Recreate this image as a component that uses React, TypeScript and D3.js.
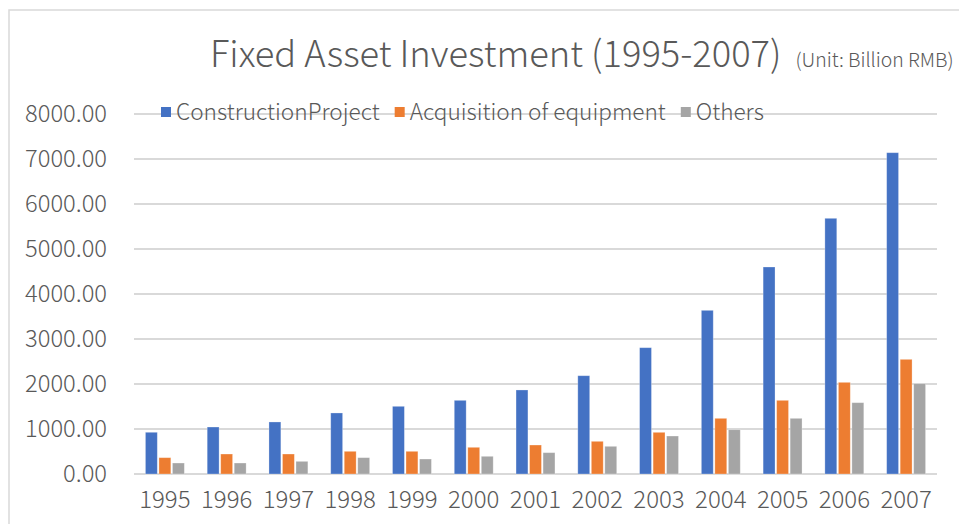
import { useEffect, useRef } from "react";
import * as d3 from "d3";

const years = ["1995", "1996", "1997", "1998", "1999", "2000", "2001", "2002", "2003", "2004", "2005", "2006", "2007"];
const construction = [927, 1044, 1156, 1356, 1504, 1637, 1867, 2184, 2807, 3637, 4600, 5682, 7140];
const equipment = [363, 444, 444, 504, 504, 593, 644, 726, 926, 1237, 1637, 2037, 2548];
const others = [244, 244, 281, 363, 333, 393, 474, 615, 844, 985, 1237, 1585, 2007];
const seriesNames = ["ConstructionProject", "Acquisition of equipment", "Others"];
const seriesColors = ["#4472c4", "#ed7d31", "#a5a5a5"];
const yTicks = [0, 1000, 2000, 3000, 4000, 5000, 6000, 7000, 8000];

const W = 959;
const H = 524;
const FONT = "'Noto Sans CJK SC', 'Noto Sans', sans-serif";
const WEIGHT = 300;

export default function App() {
  const svgRef = useRef<SVGSVGElement | null>(null);

  useEffect(() => {
    const svg = d3.select(svgRef.current);
    svg.selectAll("*").remove();

    const margin = { top: 114, right: 22, bottom: 50, left: 134 };
    const innerW = W - margin.left - margin.right;
    const innerH = H - margin.top - margin.bottom;

    // chart border (cut off on the right/bottom in the reference)
    svg
      .append("rect")
      .attr("x", 9)
      .attr("y", 10)
      .attr("width", W + 20)
      .attr("height", H + 20)
      .attr("fill", "#fff")
      .attr("stroke", "#d9d9d9")
      .attr("stroke-width", 1.5);

    // title
    const title = svg
      .append("text")
      .attr("x", 210)
      .attr("y", 67)
      .attr("font-family", FONT)
      .attr("font-weight", WEIGHT)
      .attr("font-size", 36.3)
      .attr("fill", "#595959")
      .text("Fixed Asset Investment (1995-2007)");
    const tw = (title.node() as SVGTextElement).getComputedTextLength();
    svg
      .append("text")
      .attr("x", 210 + tw + 14)
      .attr("y", 67)
      .attr("font-family", FONT)
      .attr("font-weight", WEIGHT)
      .attr("font-size", 19.4)
      .attr("fill", "#595959")
      .text("(Unit: Billion RMB)");

    const g = svg.append("g").attr("transform", `translate(${margin.left},${margin.top})`);

    const y = d3.scaleLinear().domain([0, 8000]).range([innerH, 0]);
    const x0 = d3.scaleBand().domain(years).range([0, innerW]).paddingInner(0.37).paddingOuter(0.185);
    const x1 = d3.scaleBand().domain(seriesNames).range([0, x0.bandwidth()]).paddingInner(0.12);

    // gridlines
    g.selectAll(".grid")
      .data(yTicks)
      .join("line")
      .attr("class", "grid")
      .attr("x1", 0)
      .attr("x2", innerW)
      .attr("y1", (d) => y(d))
      .attr("y2", (d) => y(d))
      .attr("stroke", "#d9d9d9")
      .attr("stroke-width", 1.8);

    // y labels
    g.selectAll(".ylab")
      .data(yTicks)
      .join("text")
      .attr("class", "ylab")
      .attr("x", -27)
      .attr("y", (d) => y(d))
      .attr("dy", "0.35em")
      .attr("text-anchor", "end")
      .attr("font-family", FONT)
      .attr("font-weight", WEIGHT)
      .attr("font-size", 23.7)
      .attr("fill", "#595959")
      .text((d) => d3.format(".2f")(d));

    // x labels
    g.selectAll(".xlab")
      .data(years)
      .join("text")
      .attr("class", "xlab")
      .attr("x", (d) => (x0(d) ?? 0) + x0.bandwidth() / 2)
      .attr("y", innerH + 34)
      .attr("text-anchor", "middle")
      .attr("font-family", FONT)
      .attr("font-weight", WEIGHT)
      .attr("font-size", 24)
      .attr("fill", "#595959")
      .text((d) => d);

    // bars
    const allSeries = [construction, equipment, others];
    allSeries.forEach((vals, si) => {
      g.selectAll(`.bar-${si}`)
        .data(vals)
        .join("rect")
        .attr("class", `bar-${si}`)
        .attr("x", (_, i) => (x0(years[i]) ?? 0) + (x1(seriesNames[si]) ?? 0))
        .attr("y", (d) => y(d))
        .attr("width", x1.bandwidth())
        .attr("height", (d) => innerH - y(d))
        .attr("fill", seriesColors[si])
        .attr("stroke", "#ffffff")
        .attr("stroke-opacity", 0.35)
        .attr("stroke-width", 0.8);
    });

    // legend, drawn over the top gridline
    const legend = svg.append("g").attr("transform", `translate(161,112)`);
    let lx = 0;
    seriesNames.forEach((name, i) => {
      legend
        .append("rect")
        .attr("x", lx)
        .attr("y", -5)
        .attr("width", 10)
        .attr("height", 10)
        .attr("fill", seriesColors[i]);
      const t = legend
        .append("text")
        .attr("x", lx + 15)
        .attr("y", 0)
        .attr("dy", "0.35em")
        .attr("font-family", FONT)
        .attr("font-weight", WEIGHT)
        .attr("font-size", 22.6)
        .attr("fill", "#595959")
        .text(name);
      lx += 15 + (t.node() as SVGTextElement).getComputedTextLength() + 15;
    });
  }, []);

  return (
    <svg
      ref={svgRef}
      width={W}
      height={H}
      style={{ position: "absolute", left: 0, top: 0, background: "#fff" }}
    />
  );
}
